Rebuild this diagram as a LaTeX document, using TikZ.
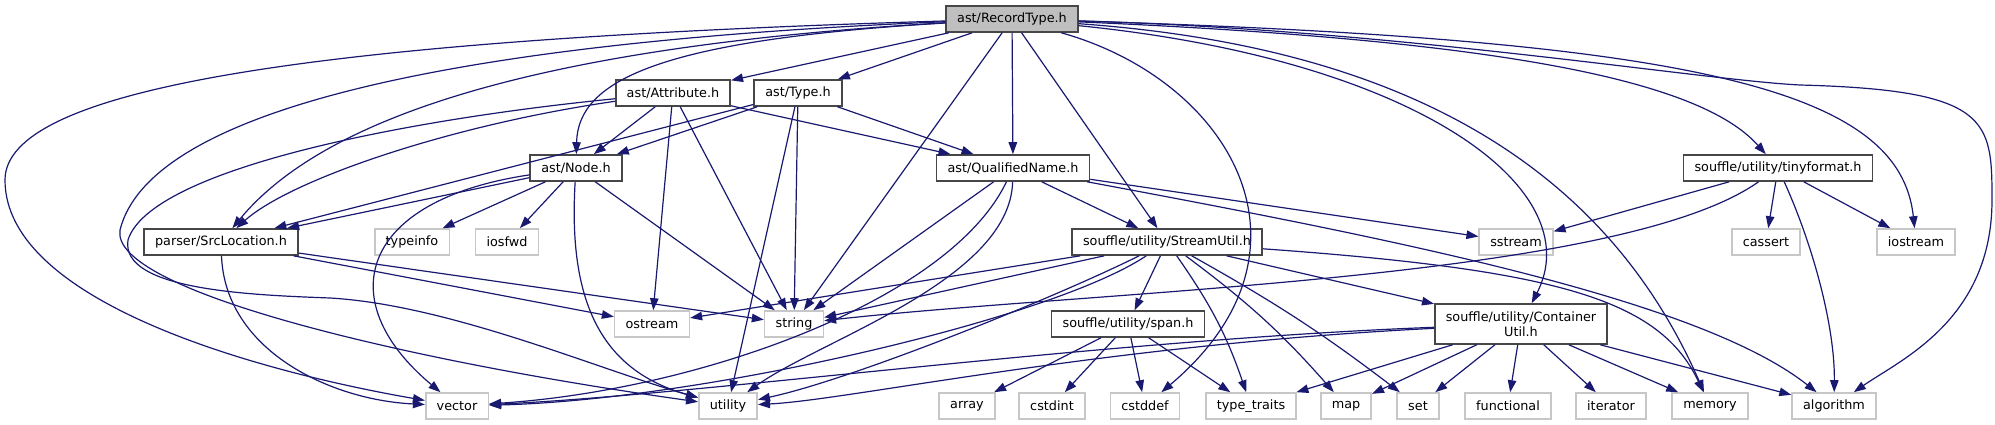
\documentclass[tikz,border=0pt]{standalone}
\usepackage{fontspec}
\setmainfont{DejaVu Sans}
\usetikzlibrary{arrows.meta}
\definecolor{edgeblue}{HTML}{191970}
\definecolor{boxgray}{HTML}{BFBFBF}
\tikzset{
  File/.style={draw=black!72, line width=1.6pt, fill=white,
    inner xsep=11pt, inner ysep=0pt, minimum height=26pt,
    font=\fontsize{12.8}{15}\selectfont},
  MainFile/.style={File, fill=boxgray},
  SysFile/.style={File, draw=black!22},
  Include/.style={draw=edgeblue, line width=1.2pt,
    -{Triangle[length=12pt,width=8.5pt]}}
}
\begin{document}
\begin{tikzpicture}[x=1pt,y=-1pt]
  \useasboundingbox (0,0) rectangle (1995,425);
  \node[MainFile] (rec) at (1012,19) {ast/RecordType.h};
  \node[File] (att) at (673,93) {ast/Attribute.h};
  \node[File] (typ) at (798,93) {ast/Type.h};
  \node[File] (nod) at (576,168) {ast/Node.h};
  \node[File] (qn) at (1013,168) {ast/QualifiedName.h};
  \node[File] (tiny) at (1778,168) {souffle/utility/tinyformat.h};
  \node[File] (src) at (221,242) {parser/SrcLocation.h};
  \node[SysFile] (typeinfo) at (412,242) {typeinfo};
  \node[SysFile] (iosfwd) at (507,242) {iosfwd};
  \node[File] (su) at (1167,242) {souffle/utility/StreamUtil.h};
  \node[SysFile] (sstream) at (1516,242) {sstream};
  \node[SysFile] (cassert) at (1766,242) {cassert};
  \node[SysFile] (iostream) at (1916,242) {iostream};
  \node[SysFile] (ostream) at (652,324) {ostream};
  \node[SysFile] (string) at (794,324) {string};
  \node[File] (span) at (1128,324) {souffle/utility/span.h};
  \node[File, align=center, minimum height=40pt] (cu) at (1521,324) {souffle/utility/Container\\Util.h};
  \node[SysFile] (vector) at (457,406) {vector};
  \node[SysFile] (utility) at (728,406) {utility};
  \node[SysFile] (array) at (967,406) {array};
  \node[SysFile] (cstdint) at (1052,406) {cstdint};
  \node[SysFile] (cstddef) at (1145,406) {cstddef};
  \node[SysFile] (traits) at (1251,406) {type\_traits};
  \node[SysFile] (map) at (1346,406) {map};
  \node[SysFile] (set) at (1418,406) {set};
  \node[SysFile] (functional) at (1508,406) {functional};
  \node[SysFile] (iterator) at (1611,406) {iterator};
  \node[SysFile] (memory) at (1710,406) {memory};
  \node[SysFile] (algorithm) at (1834,406) {algorithm};

  \draw[Include] (rec) -- (att);
  \draw[Include] (rec) -- (typ);
  \draw[Include] (rec) -- (qn);
  \draw[Include] (rec) -- (su);
  \draw[Include] (rec) -- (string);
  \draw[Include] (rec) .. controls (660,40) and (578,80) .. (nod);
  \draw[Include] (rec) .. controls (560,45) and (330,110) .. (src);
  \draw[Include] (rec) .. controls (300,40) and (5,90) .. (5,180) .. controls (5,300) and (250,370) .. (vector);
  \draw[Include] (rec) .. controls (450,42) and (150,110) .. (120,230) .. controls (110,290) and (400,360) .. (utility);
  \draw[Include] (rec) .. controls (1230,80) and (1330,250) .. (cstddef);
  \draw[Include] (rec) .. controls (1420,60) and (1590,190) .. (cu);
  \draw[Include] (rec) .. controls (1450,50) and (1620,200) .. (memory);
  \draw[Include] (rec) .. controls (1500,40) and (1700,80) .. (tiny);
  \draw[Include] (rec) .. controls (1700,40) and (1900,90) .. (iostream);
  \draw[Include] (rec) .. controls (1400,30) and (1700,80) .. (1800,85) .. controls (1990,90) and (1992,120) .. (1992,200) .. controls (1992,320) and (1900,360) .. (algorithm);

  \draw[Include] (att) -- (nod);
  \draw[Include] (att) -- (qn);
  \draw[Include] (att) -- (ostream);
  \draw[Include] (att) -- (string);
  \draw[Include] (att) .. controls (450,125) and (290,180) .. (src);
  \draw[Include] (att) .. controls (400,120) and (150,170) .. (128,240) .. controls (120,290) and (250,295) .. (330,298) .. controls (450,305) and (600,370) .. (utility);

  \draw[Include] (typ) -- (nod);
  \draw[Include] (typ) -- (qn);
  \draw[Include] (typ) -- (src);
  \draw[Include] (typ) -- (string);
  \draw[Include] (typ) -- (utility);

  \draw[Include] (nod) -- (src);
  \draw[Include] (nod) -- (typeinfo);
  \draw[Include] (nod) -- (iosfwd);
  \draw[Include] (nod) -- (string);
  \draw[Include] (nod) .. controls (360,200) and (330,300) .. (vector);
  \draw[Include] (nod) .. controls (568,300) and (600,370) .. (utility);

  \draw[Include] (qn) -- (su);
  \draw[Include] (qn) -- (sstream);
  \draw[Include] (qn) -- (string);
  \draw[Include] (qn) .. controls (1400,240) and (1700,300) .. (algorithm);
  \draw[Include] (qn) .. controls (1010,280) and (820,340) .. (utility);
  \draw[Include] (qn) .. controls (950,300) and (700,390) .. (vector);

  \draw[Include] (src) -- (ostream);
  \draw[Include] (src) -- (string);
  \draw[Include] (src) .. controls (225,350) and (330,400) .. (vector);

  \draw[Include] (su) -- (span);
  \draw[Include] (su) -- (ostream);
  \draw[Include] (su) -- (string);
  \draw[Include] (su) -- (cu);
  \draw[Include] (su) to[bend left=8] (traits);
  \draw[Include] (su) to[bend left=6] (map);
  \draw[Include] (su) to[bend left=4] (set);
  \draw[Include] (su) .. controls (1560,270) and (1660,300) .. (memory);
  \draw[Include] (su) .. controls (1050,300) and (850,380) .. (utility);
  \draw[Include] (su) .. controls (1050,320) and (700,400) .. (vector);

  \draw[Include] (tiny) -- (sstream);
  \draw[Include] (tiny) -- (cassert);
  \draw[Include] (tiny) -- (iostream);
  \draw[Include] (tiny) .. controls (1620,280) and (1100,290) .. (string);
  \draw[Include] (tiny) .. controls (1815,250) and (1835,330) .. (algorithm);

  \draw[Include] (cu) -- (traits);
  \draw[Include] (cu) -- (map);
  \draw[Include] (cu) -- (set);
  \draw[Include] (cu) -- (functional);
  \draw[Include] (cu) -- (iterator);
  \draw[Include] (cu) -- (memory);
  \draw[Include] (cu) -- (algorithm);
  \draw[Include] (cu) .. controls (1100,340) and (700,395) .. (vector);
  \draw[Include] (cu) .. controls (1100,345) and (850,400) .. (utility);

  \draw[Include] (span) -- (array);
  \draw[Include] (span) -- (cstdint);
  \draw[Include] (span) -- (cstddef);
  \draw[Include] (span) -- (traits);
\end{tikzpicture}
\end{document}
